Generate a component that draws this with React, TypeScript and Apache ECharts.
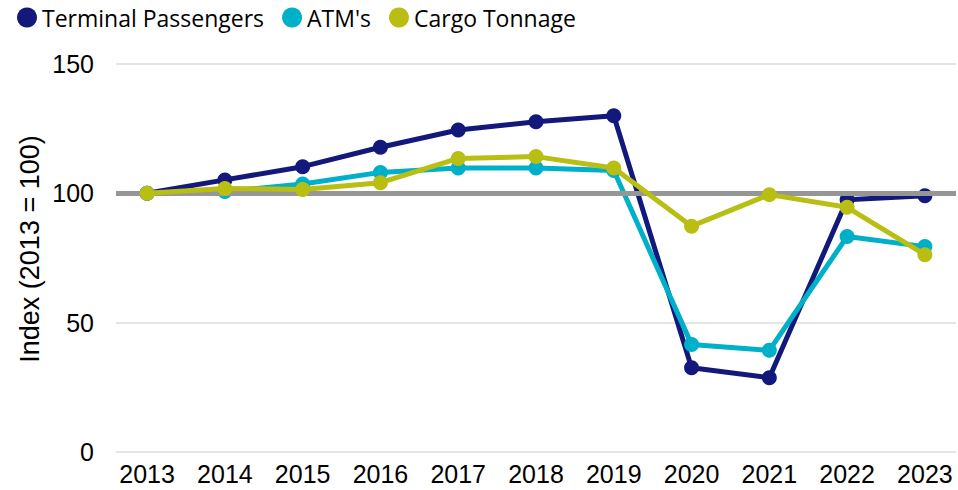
import React, { useEffect, useRef } from "react";
import * as echarts from "echarts";

const years = [2013, 2014, 2015, 2016, 2017, 2018, 2019, 2020, 2021, 2022, 2023];
const terminalPassengers = [100, 105.2, 110.3, 117.8, 124.5, 127.7, 130, 32.6, 28.7, 97.5, 99.1];
const atms = [100, 100.7, 103.6, 108.1, 109.8, 109.8, 108.8, 41.6, 39.3, 83.3, 79.4];
const cargoTonnage = [100, 101.9, 101.5, 104.1, 113.5, 114.2, 109.8, 87.3, 99.5, 94.6, 76.3];
const seriesNames = ["Terminal Passengers", "ATM's", "Cargo Tonnage"];
const colors = ["#12197a", "#00b0c8", "#b8bf12"];
const yTicks = [0, 50, 100, 150];
const yTitle = "Index (2013 = 100)";

export default function App() {
  const ref = useRef<HTMLDivElement>(null);
  useEffect(() => {
    if (!ref.current) return;
    const chart = echarts.init(ref.current, null, { renderer: "svg" });
    const values = [terminalPassengers, atms, cargoTonnage];
    const axisFont = "'Liberation Sans', Arial, sans-serif";
    chart.setOption({
      animation: false,
      backgroundColor: "#ffffff",
      legend: {
        data: seriesNames.map((n, i) => ({ name: n, itemStyle: { color: colors[i] } })),
        left: 17,
        top: 6,
        padding: 0,
        icon: "circle",
        itemWidth: 20,
        itemHeight: 20,
        itemGap: 18,
        textStyle: { fontFamily: "'Open Sans', sans-serif", fontSize: 23, color: "#000" },
      },
      graphic: [
        {
          type: "text",
          x: 30,
          y: 249,
          rotation: Math.PI / 2,
          style: {
            text: yTitle,
            fontFamily: axisFont,
            fontSize: 27,
            fill: "#000",
            textAlign: "center",
            textVerticalAlign: "middle",
          },
        },
      ],
      grid: { left: 116, right: 2, top: 64, bottom: 38, containLabel: false },
      xAxis: {
        type: "value",
        min: 2012.6,
        max: 2023.4,
        axisLine: { show: false },
        axisTick: { show: false },
        splitLine: { show: false },
        axisLabel: {
          customValues: years,
          formatter: (v: number) => String(v),
          fontFamily: axisFont,
          fontSize: 25,
          color: "#000",
          margin: 9,
        },
      },
      yAxis: {
        type: "value",
        min: yTicks[0],
        max: yTicks[yTicks.length - 1],
        interval: 50,
        axisLine: { show: false },
        axisTick: { show: false },
        axisLabel: { fontFamily: axisFont, fontSize: 25, color: "#000", margin: 22 },
        splitLine: { show: true, lineStyle: { color: "#dcdcdc", width: 1.5 } },
      },
      series: [
        {
          type: "line",
          name: "__ref",
          data: [],
          z: 1,
          silent: true,
          markLine: {
            silent: true,
            symbol: "none",
            label: { show: false },
            lineStyle: { color: "#969696", width: 5, type: "solid" },
            data: [{ yAxis: 100 }],
          },
        },
        ...seriesNames.map((name, i) => ({
          type: "line",
          name,
          z: 3 + i,
          data: years.map((y, j) => [y, values[i][j]]),
          symbol: "circle",
          symbolSize: 15,
          showSymbol: true,
          lineStyle: { color: colors[i], width: 5 },
          itemStyle: { color: colors[i] },
        })),
      ],
    });
    return () => chart.dispose();
  }, []);
  return <div ref={ref} style={{ position: "absolute", left: 0, top: 0, width: 958, height: 490 }} />;
}
